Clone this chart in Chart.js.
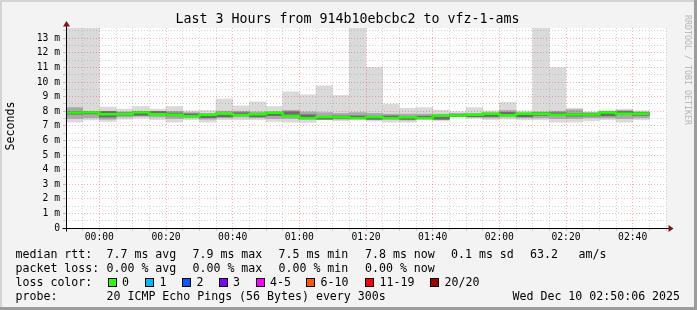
<!DOCTYPE html>
<html>
<head>
<meta charset="utf-8">
<script src="https://cdn.jsdelivr.net/npm/chart.js@4.4.1/dist/chart.umd.min.js"></script>
<style>
  body { margin: 0; }
  #wrap {
    position: relative; width: 697px; height: 310px; background: #f3f3f3;
    box-shadow: inset -3px -3px 0 #9c9c9c, inset 2px 2px 0 #d4d4d4;
    font-family: 'DejaVu Sans Mono', monospace; color: #000;
  }
  canvas { position: absolute; left: 0; top: 0; }
  .t { position: absolute; white-space: pre; font-size: 11.6px; line-height: 14px; }
  .box { position: absolute; width: 9px; height: 9px; box-sizing: border-box; border: 1px solid #000; }
</style>
</head>
<body>
<div id="wrap">
  <canvas id="myChart" width="697" height="310"></canvas>
  <div class="t" style="left:0;width:695px;top:10.5px;font-size:13.3px;line-height:16px;text-align:center">Last 3 Hours from 914b10ebcbc2 to vfz-1-ams</div>
  <div class="t" style="left:-15px;top:119px;width:50px;text-align:center;transform:rotate(-90deg)">Seconds</div>
  <div class="t" style="left:643px;top:55px;width:90px;text-align:center;font-size:8.3px;line-height:10px;color:#b4b4b4;transform:rotate(90deg)">RRDTOOL / TOBI OETIKER</div>

  <div class="t" style="left:15.5px;top:247.3px">median rtt:</div>
  <div class="t" style="left:106.5px;top:247.3px">7.7 ms avg</div>
  <div class="t" style="left:192.5px;top:247.3px">7.9 ms max</div>
  <div class="t" style="left:278.5px;top:247.3px">7.5 ms min</div>
  <div class="t" style="left:365px;top:247.3px">7.8 ms now</div>
  <div class="t" style="left:451px;top:247.3px">0.1 ms sd</div>
  <div class="t" style="left:530px;top:247.3px">63.2</div>
  <div class="t" style="left:578.5px;top:247.3px">am/s</div>

  <div class="t" style="left:15.5px;top:261.2px">packet loss:</div>
  <div class="t" style="left:106.5px;top:261.2px">0.00 % avg</div>
  <div class="t" style="left:192.5px;top:261.2px">0.00 % max</div>
  <div class="t" style="left:278.5px;top:261.2px">0.00 % min</div>
  <div class="t" style="left:365px;top:261.2px">0.00 % now</div>

  <div class="t" style="left:15.5px;top:275px">loss color:</div>
  <div id="lossRow"></div>

  <div class="t" style="left:15.5px;top:288.8px">probe:</div>
  <div class="t" style="left:106.5px;top:288.8px">20 ICMP Echo Pings (56 Bytes) every 300s</div>
  <div class="t" style="left:512.5px;top:288.8px">Wed Dec 10 02:50:06 2025</div>
</div>
<script>
// 5 minute bins from 23:50 to 02:45 (values in ms)
const median = [7.91, 7.91, 7.93, 7.80, 7.80, 7.93, 7.80, 7.75, 7.66, 7.75, 7.82, 7.74, 7.80, 7.89, 7.68, 7.52, 7.61, 7.60,
    7.52, 7.60, 7.52, 7.58, 7.52, 7.70, 7.70, 7.75, 7.82, 7.73, 7.82, 7.82, 7.75, 7.78, 7.78, 7.91, 7.82];
const pingMax = [14, 14, 8.28, 8.14, 8.32, 8.14, 8.32, 8.03, 8.05, 8.84, 8.37, 8.64, 8.32, 9.33, 9.12, 9.74, 9.08, 14,
    11.0, 8.50, 8.20, 8.25, 8.07, 7.97, 8.25, 8.03, 8.60, 8.03, 14, 10.99, 8.20, 7.95, 8.03, 8.14, 8.03];
const pingMin = [7.25, 7.41, 7.30, 7.45, 7.52, 7.41, 7.25, 7.41, 7.25, 7.41, 7.41, 7.41, 7.30, 7.25, 7.23, 7.41, 7.34, 7.41,
    7.34, 7.25, 7.25, 7.41, 7.34, 7.64, 7.52, 7.41, 7.46, 7.41, 7.41, 7.25, 7.25, 7.34, 7.41, 7.25, 7.41];
const smokeLo = [7.50, 7.55, 7.45, 7.60, 7.65, 7.60, 7.50, 7.55, 7.45, 7.55, 7.60, 7.55, 7.50, 7.50, 7.45, 7.45, 7.45, 7.50,
    7.45, 7.45, 7.40, 7.50, 7.45, 7.65, 7.60, 7.55, 7.60, 7.55, 7.55, 7.50, 7.50, 7.55, 7.55, 7.50, 7.55];
const smokeHi = [8.25, 8.00, 8.00, 7.95, 8.00, 7.98, 8.00, 7.90, 7.85, 8.00, 8.00, 7.95, 7.95, 8.05, 7.95, 7.90, 7.85, 7.90,
    7.85, 7.80, 7.80, 7.80, 7.80, 7.85, 7.85, 7.90, 8.05, 7.90, 7.95, 8.00, 8.10, 7.90, 8.00, 8.05, 7.95];
const coreLo = [7.80, 7.82, 7.60, 7.72, 7.72, 7.84, 7.68, 7.66, 7.56, 7.62, 7.74, 7.62, 7.70, 7.78, 7.56, 7.45, 7.52, 7.50,
    7.44, 7.50, 7.44, 7.50, 7.44, 7.62, 7.62, 7.64, 7.70, 7.62, 7.72, 7.72, 7.66, 7.68, 7.68, 7.80, 7.72];
const coreHi = [7.98, 7.98, 7.98, 7.88, 7.88, 7.98, 7.88, 7.82, 7.75, 7.85, 7.90, 7.82, 7.88, 7.96, 7.76, 7.60, 7.68, 7.68,
    7.60, 7.68, 7.60, 7.66, 7.60, 7.78, 7.78, 7.85, 7.92, 7.80, 7.90, 7.90, 7.85, 7.86, 7.86, 7.98, 7.90];

const timeLabels = ['00:00', '00:20', '00:40', '01:00', '01:20', '01:40', '02:00', '02:20', '02:40'];
const lossLabels = ['0', '1', '2', '3', '4-5', '6-10', '11-19', '20/20'];
const lossColors = ['#26ff00', '#00b8ff', '#0059ff', '#7e00ff', '#ff00ff', '#ff5500', '#ff0000', '#a10000'];
const lossBoxX = [107.5, 145, 182, 218.5, 255.5, 306, 365, 430];

const STEP = 5; // minutes per bin, x axis counts minutes from 23:50

// loss colour legend row
const row = document.getElementById('lossRow');
lossLabels.forEach((l, i) => {
    const b = document.createElement('div');
    b.className = 'box';
    b.style.left = lossBoxX[i] + 'px';
    b.style.top = '278px';
    b.style.background = lossColors[i];
    row.appendChild(b);
    const t = document.createElement('div');
    t.className = 't';
    t.style.left = (lossBoxX[i] + 14.5) + 'px';
    t.style.top = '275px';
    t.textContent = l;
    row.appendChild(t);
});

const band = (lo, hi) => lo.map((v, i) => ({ x: i * STEP + STEP / 2, y: [v, hi[i]] }));
const medianLine = median.map((v, i) => ({ x: i * STEP, y: v }))
    .concat([{ x: median.length * STEP, y: median[median.length - 1] }]);

const barStyle = { type: 'bar', grouped: false, barPercentage: 1, categoryPercentage: 1, borderWidth: 0 };

const frame = {
    id: 'frame',
    beforeDraw(chart) {
        const { ctx, chartArea: a } = chart;
        ctx.save();
        ctx.fillStyle = '#ffffff';
        ctx.fillRect(a.left, a.top, a.right - a.left, a.bottom - a.top);
        ctx.restore();
    },
    afterDraw(chart) {
        const { ctx, chartArea: a } = chart;
        const x0 = Math.round(chart.scales.x.getPixelForValue(0)) + 0.5;
        const y0 = Math.round(chart.scales.y.getPixelForValue(0)) + 0.5;
        ctx.save();
        ctx.strokeStyle = '#000';
        ctx.lineWidth = 1;
        ctx.beginPath();
        ctx.moveTo(x0, y0 + 3); ctx.lineTo(x0, a.top - 4);
        ctx.moveTo(x0 - 4, y0); ctx.lineTo(a.right + 4, y0);
        ctx.stroke();
        ctx.fillStyle = '#8b1010';
        ctx.beginPath();
        ctx.moveTo(x0, a.top - 7); ctx.lineTo(x0 - 3.5, a.top - 1.5); ctx.lineTo(x0 + 3.5, a.top - 1.5);
        ctx.closePath(); ctx.fill();
        ctx.beginPath();
        ctx.moveTo(a.right + 7.5, y0); ctx.lineTo(a.right + 2.5, y0 - 3.5); ctx.lineTo(a.right + 2.5, y0 + 3.5);
        ctx.closePath(); ctx.fill();
        ctx.restore();
    }
};

const majorRed = 'rgba(255, 0, 0, 0.3)';
const minorGray = 'rgba(120, 120, 120, 0.3)';
const tickFont = { family: 'DejaVu Sans Mono', size: 9.7 };
const isMajorX = c => c.tick && (c.tick.value - 10) % 20 === 0;
const isMajorY = c => c.tick && Number.isInteger(c.tick.value);

const config = {
    data: {
        datasets: [
            { type: 'line', data: medianLine, stepped: 'after', borderColor: '#22ff00', borderWidth: 2.5,
              pointRadius: 0, order: 0 },
            { ...barStyle, data: band(coreLo, coreHi), backgroundColor: '#6c6c6c', order: 1 },
            { ...barStyle, data: band(smokeLo, smokeHi), backgroundColor: '#a9a9a9', order: 2 },
            { ...barStyle, data: band(pingMin, pingMax), backgroundColor: '#dadada', order: 3 },
        ],
    },
    options: {
        responsive: false,
        animation: false,
        events: [],
        layout: { padding: { top: 28, right: 31, left: 0, bottom: 0 } },
        plugins: { legend: { display: false }, tooltip: { enabled: false } },
        scales: {
            x: {
                type: 'linear', min: 0, max: 180, offset: false,
                afterFit: s => { s.height = 82; },
                border: { display: false, dash: [1, 2] },
                grid: {
                    z: 1, lineWidth: 1, tickLength: 3, offset: false,
                    color: c => (isMajorX(c) ? majorRed : minorGray),
                    tickColor: c => (isMajorX(c) ? majorRed : minorGray),
                },
                ticks: {
                    stepSize: STEP, autoSkip: false, maxRotation: 0, padding: 1, color: '#000', font: tickFont,
                    callback: v => {
                        const k = (v - 10) / 20;
                        return Number.isInteger(k) && timeLabels[k] ? timeLabels[k] : '';
                    }
                }
            },
            y: {
                min: 0, max: 13.7,
                afterFit: s => { s.width = 66; },
                border: { display: false, dash: [1, 2] },
                grid: {
                    z: 1, lineWidth: 1, tickLength: 3,
                    color: c => (isMajorY(c) ? majorRed : minorGray),
                    tickColor: c => (isMajorY(c) ? majorRed : minorGray),
                },
                ticks: {
                    stepSize: 0.5, includeBounds: false, autoSkip: false, padding: 3, color: '#000', font: tickFont,
                    callback: v => (Number.isInteger(v) ? (v === 0 ? '0' : v + ' m') : '')
                }
            }
        }
    },
    plugins: [frame]
};

const ctx = document.getElementById('myChart').getContext('2d');
const myChart = new Chart(ctx, config);
</script>
</body>
</html>
